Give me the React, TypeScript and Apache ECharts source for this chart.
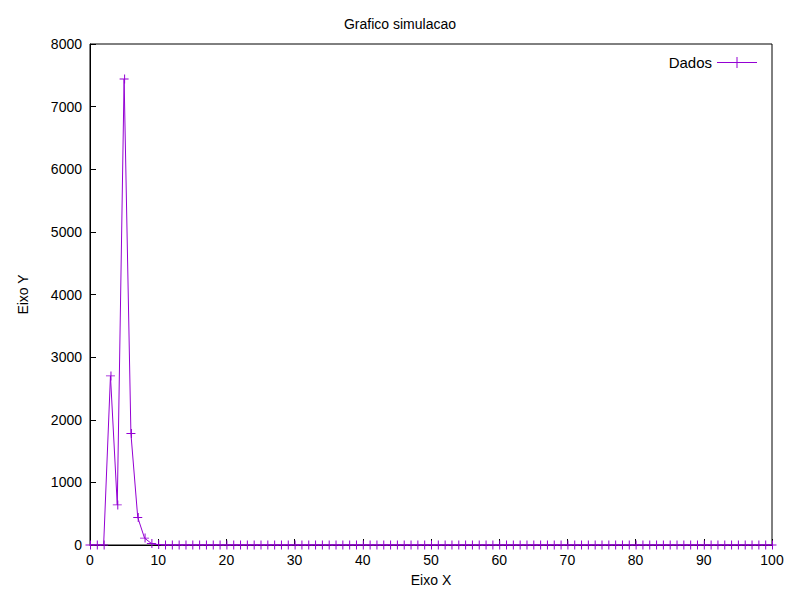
import React, { useEffect, useRef } from "react";
import * as echarts from "echarts";

const xValues: number[] = Array.from({ length: 101 }, (_, i) => i);
const peakValues: number[] = [0, 0, 0, 2700, 640, 7440, 1780, 440, 110, 25, 6];
const yValues: number[] = xValues.map((x) => (x < peakValues.length ? peakValues[x] : 0));

export default function App() {
  const ref = useRef<HTMLDivElement>(null);
  useEffect(() => {
    const chart = echarts.init(ref.current!, null, { renderer: "svg" });
    const font = "Liberation Sans";
    chart.setOption({
      animation: false,
      backgroundColor: "#fff",
      title: { text: "Grafico simulacao", left: "center", top: 4, textStyle: { fontFamily: font, fontSize: 14, fontWeight: "normal", color: "#000" } },
      legend: {
        right: 30, top: 42, orient: "vertical",
        data: [{ name: "Dados", icon: "path://M0,5L40,5L40,6L0,6ZM19.5,0L20.5,0L20.5,11L19.5,11Z" }],
        align: "right", itemWidth: 40, itemHeight: 11, itemGap: 8,
        textStyle: { fontFamily: font, fontSize: 15, color: "#000" },
      },
      grid: { left: 75, right: 20, top: 36, bottom: 42, show: true, borderColor: "#000", borderWidth: 1, backgroundColor: "transparent" },
      xAxis: {
        type: "value", min: 0, max: 100, interval: 10, name: "Eixo X", nameLocation: "middle", nameGap: 28,
        nameTextStyle: { fontFamily: font, fontSize: 14, color: "#000" },
        axisLine: { show: true, lineStyle: { color: "#000" } },
        axisTick: { inside: true, length: 6, lineStyle: { color: "#000" } },
        axisLabel: { fontFamily: font, fontSize: 14, color: "#000", formatter: (v: number) => String(v) },
        splitLine: { show: false },
      },
      yAxis: {
        type: "value", min: 0, max: 8000, interval: 1000, name: "Eixo Y", nameLocation: "middle", nameGap: 60,
        nameTextStyle: { fontFamily: font, fontSize: 14, color: "#000" },
        axisLine: { show: true, lineStyle: { color: "#000" } },
        axisTick: { inside: true, length: 6, lineStyle: { color: "#000" } },
        axisLabel: { fontFamily: font, fontSize: 14, color: "#000", formatter: (v: number) => String(v) },
        splitLine: { show: false },
      },
      series: [{
        name: "Dados", type: "line", data: xValues.map((x, i) => [x, yValues[i]]),
        color: "#9400d3", lineStyle: { width: 1, color: "#9400d3" },
        symbol: "path://M0,4.5L9,4.5L9,5.5L0,5.5ZM4.5,0L5.5,0L5.5,10L4.5,10Z", symbolSize: 9,
        itemStyle: { color: "#9400d3" },
      }],
    });
    return () => chart.dispose();
  }, []);
  return <div ref={ref} style={{ width: 784, height: 584 }} />;
}
